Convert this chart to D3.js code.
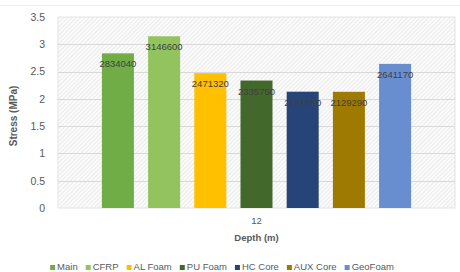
<!DOCTYPE html>
<html>
<head>
<meta charset="utf-8">
<script src="https://cdn.jsdelivr.net/npm/d3@7"></script>
<style>
  body { margin: 0; background: #fff; }
  text { font-family: "Liberation Sans", Arial, sans-serif; }
</style>
</head>
<body>
<div id="chart"></div>
<script>
var width = 460;
var height = 272;

// data
var depth = ["12"];
var series = ["Main", "CFRP", "AL Foam", "PU Foam", "HC Core", "AUX Core", "GeoFoam"];
var stressPa = [2834040, 3146600, 2471320, 2335750, 2131250, 2129290, 2641170];
var colors = ["#70ad47", "#92c35f", "#ffc000", "#43682b", "#264478", "#9e7a00", "#698ed0"];
var yTicks = [0, 0.5, 1, 1.5, 2, 2.5, 3, 3.5];

var plotLeft = 58, plotRight = 455, plotTop = 17, plotBottom = 208;

var svg = d3.select('#chart')
  .append('svg')
  .attr('width', width)
  .attr('height', height);

var defs = svg.append('defs');
var pat = defs.append('pattern')
  .attr('id', 'hatch')
  .attr('patternUnits', 'userSpaceOnUse')
  .attr('width', 3)
  .attr('height', 3)
  .attr('patternTransform', 'rotate(45)');
pat.append('rect').attr('width', 3).attr('height', 3).attr('fill', '#fbfbfb');
pat.append('line')
  .attr('x1', 0).attr('y1', 0).attr('x2', 0).attr('y2', 3)
  .attr('stroke', '#dcdcdc').attr('stroke-width', 1);

// faint chart border at the top
svg.append('line')
  .attr('x1', 0).attr('x2', width)
  .attr('y1', 5.5).attr('y2', 5.5)
  .attr('stroke', '#eeeeee');

var x0 = d3.scaleBand().domain(depth).range([plotLeft, plotRight]).paddingInner(0).paddingOuter(0.142);
var x1 = d3.scaleBand().domain(series).range([0, x0.bandwidth()]).paddingInner(0.307).paddingOuter(0);
var y = d3.scaleLinear().domain([0, 3.5]).range([plotBottom, plotTop]);

// plot area
svg.append('rect')
  .attr('x', plotLeft).attr('y', plotTop)
  .attr('width', plotRight - plotLeft).attr('height', plotBottom - plotTop)
  .attr('fill', 'url(#hatch)')
  .attr('stroke', '#e4e4e4');

// grid
svg.selectAll('.grid')
  .data(yTicks.slice(1, -1))
  .enter()
  .append('line')
  .attr('class', 'grid')
  .attr('x1', plotLeft).attr('x2', plotRight)
  .attr('y1', d => Math.round(y(d)) + 0.5)
  .attr('y2', d => Math.round(y(d)) + 0.5)
  .attr('stroke', '#d9d9d9');

// y axis
var yAxis = d3.axisLeft(y).tickValues(yTicks).tickSize(0).tickPadding(0).tickFormat(d => String(d));
var yAxisGroup = svg.append('g')
  .attr('transform', 'translate(45,0)')
  .call(yAxis);
yAxisGroup.select('.domain').remove();
yAxisGroup.selectAll('text')
  .attr('fill', '#595959')
  .style('font-size', '10.5px')
  .style('font-family', '"Liberation Sans", Arial, sans-serif');

// x axis
var xAxis = d3.axisBottom(x0).tickSize(0).tickPadding(0);
var xAxisGroup = svg.append('g')
  .attr('transform', 'translate(0,' + 217 + ')')
  .call(xAxis);
xAxisGroup.select('.domain').remove();
xAxisGroup.selectAll('text')
  .attr('fill', '#595959')
  .style('font-size', '9.5px')
  .style('font-family', '"Liberation Sans", Arial, sans-serif');

// bars
var bars = svg.append('g').attr('transform', 'translate(' + x0(depth[0]) + ',0)');
bars.selectAll('rect')
  .data(series)
  .enter()
  .append('rect')
  .attr('x', d => x1(d))
  .attr('width', x1.bandwidth())
  .attr('y', (d, i) => y(stressPa[i] / 1e6))
  .attr('height', (d, i) => plotBottom - y(stressPa[i] / 1e6))
  .attr('fill', (d, i) => colors[i]);

bars.selectAll('.lbl')
  .data(series)
  .enter()
  .append('text')
  .attr('class', 'lbl')
  .attr('x', d => x1(d) + x1.bandwidth() / 2)
  .attr('y', (d, i) => y(stressPa[i] / 1e6) + 14)
  .attr('text-anchor', 'middle')
  .attr('fill', '#404040')
  .style('font-size', '9.5px')
  .text((d, i) => stressPa[i]);

// axis titles
svg.append('text')
  .attr('transform', 'translate(17,' + 116 + ') rotate(-90)')
  .attr('text-anchor', 'middle')
  .attr('fill', '#595959')
  .style('font-size', '10px')
  .style('font-weight', 'bold')
  .text('Stress (MPa)');

svg.append('text')
  .attr('x', (plotLeft + plotRight) / 2)
  .attr('y', 241)
  .attr('text-anchor', 'middle')
  .attr('fill', '#595959')
  .style('font-size', '9.5px')
  .style('font-weight', 'bold')
  .text('Depth (m)');

// legend
var legend = svg.append('g');
var lx = 0;
series.forEach(function(s, i) {
  var g = legend.append('g').attr('transform', 'translate(' + lx + ',0)');
  g.append('rect').attr('x', 0).attr('y', -5).attr('width', 5).attr('height', 5).attr('fill', colors[i]);
  var t = g.append('text')
    .attr('x', 7).attr('y', 0)
    .attr('fill', '#595959')
    .style('font-size', '9.5px')
    .text(s);
  lx += 7 + t.node().getComputedTextLength() + 8;
});
lx -= 8;
legend.attr('transform', 'translate(' + (222 - lx / 2) + ',270)');
</script>
</body>
</html>
